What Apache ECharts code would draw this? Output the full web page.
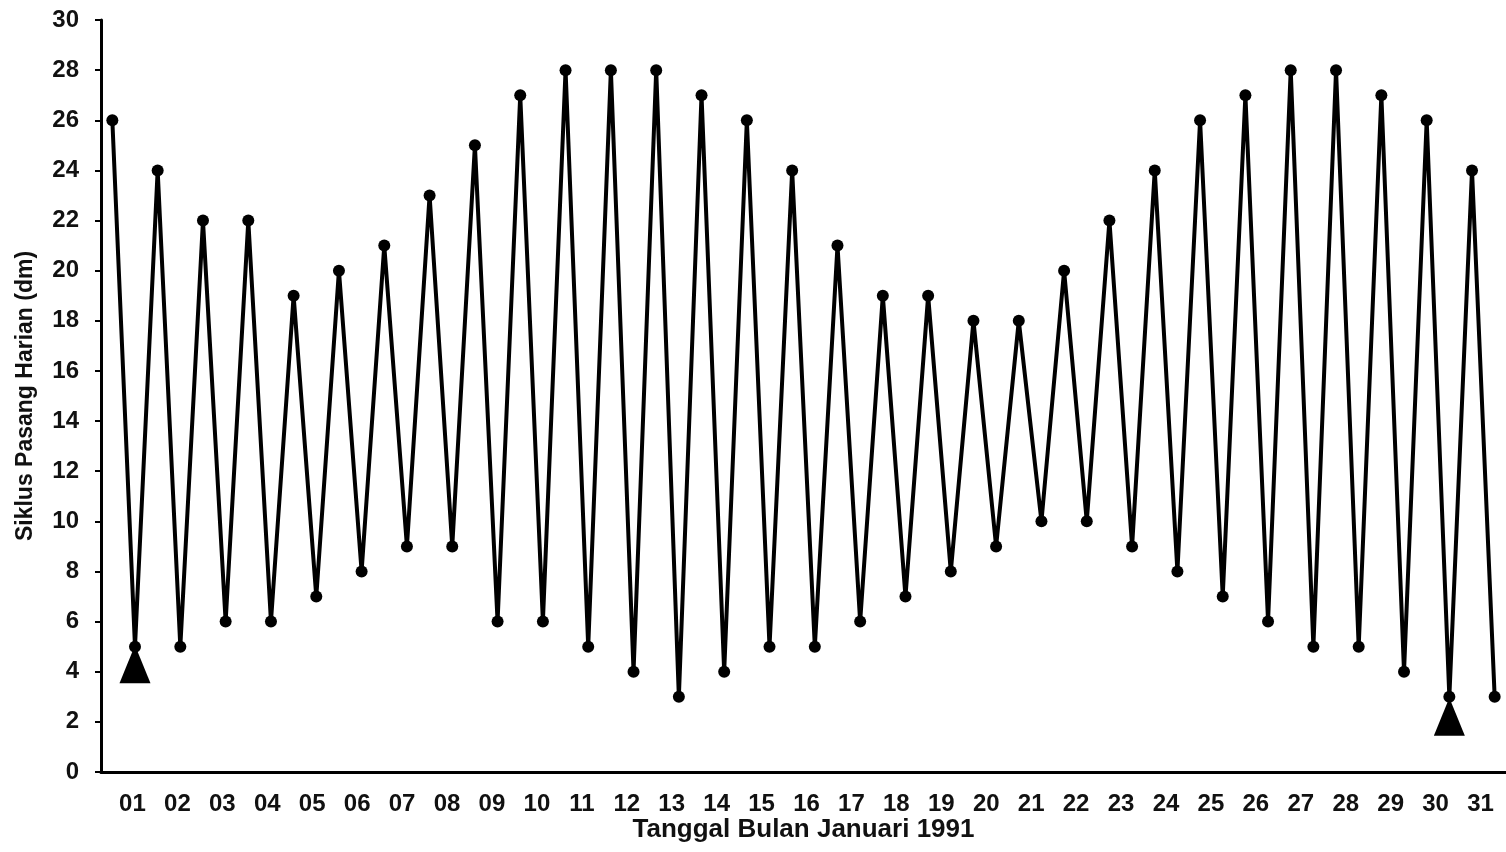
<!DOCTYPE html>
<html>
<head>
<meta charset="utf-8">
<script src="https://cdn.jsdelivr.net/npm/echarts@6/dist/echarts.min.js"></script>
<style>
  html, body {
    margin: 0;
    padding: 0;
    background: #fff;
  }

  #chart {
    width: 1506px;
    height: 852px;
  }
</style>
</head>
<body>
<div id="chart"></div>
<script>
// tanggal (label sumbu x)
const days = ['01', '02', '03', '04', '05', '06', '07', '08', '09', '10',
  '11', '12', '13', '14', '15', '16', '17', '18', '19', '20',
  '21', '22', '23', '24', '25', '26', '27', '28', '29', '30', '31']

// dua titik per hari: pasang tinggi lalu pasang rendah (dm)
const tideValues = [
  26, 5, 24, 5, 22, 6, 22, 6, 19, 7,
  20, 8, 21, 9, 23, 9, 25, 6, 27, 6,
  28, 5, 28, 4, 28, 3, 27, 4, 26, 5,
  24, 5, 21, 6, 19, 7, 19, 8, 18, 9,
  18, 10, 20, 10, 22, 9, 24, 8, 26, 7,
  27, 6, 28, 5, 28, 5, 27, 4, 26, 3,
  24, 3
]

// tanda segitiga (indeks titik, nilai)
const markerIndex = [1, 59]
const markerValue = [4.3, 2.2]

const slots = tideValues.map((v, i) => String(i))
const markers = markerIndex.map((idx, i) => [String(idx), markerValue[i]])

const fontFamily = '"Liberation Sans", Arial, sans-serif'

const chart = echarts.init(document.getElementById('chart'), null, {renderer: 'canvas'})

const option = {
  animation: false,
  backgroundColor: '#fff',
  grid: [
    {
      left: 101,
      right: 0,
      top: 20,
      bottom: 80
    },
    // grid hanya untuk label tanggal
    {
      left: 110,
      right: 3,
      top: 20,
      bottom: 80
    }
  ],
  xAxis: [
    {
      type: 'category',
      gridIndex: 0,
      data: slots,
      boundaryGap: true,
      axisLine: {
        lineStyle: {
          color: '#000',
          width: 3
        }
      },
      axisTick: {show: false},
      axisLabel: {show: false},
      name: 'Tanggal Bulan Januari 1991',
      nameLocation: 'middle',
      nameGap: 45,
      nameTextStyle: {
        color: '#111',
        fontFamily: fontFamily,
        fontWeight: 'bold',
        fontSize: 26
      }
    },
    {
      type: 'category',
      gridIndex: 1,
      data: days,
      boundaryGap: true,
      axisLine: {show: false},
      axisTick: {show: false},
      axisLabel: {
        margin: 20,
        interval: 0,
        color: '#111',
        fontFamily: fontFamily,
        fontWeight: 'bold',
        fontSize: 24
      }
    }
  ],
  yAxis: [
    {
      type: 'value',
      gridIndex: 0,
      min: 0,
      max: 30,
      interval: 2,
      splitLine: {show: false},
      axisLine: {
        show: true,
        lineStyle: {
          color: '#000',
          width: 3
        }
      },
      axisTick: {
        show: true,
        length: 6,
        lineStyle: {
          color: '#000',
          width: 2
        }
      },
      axisLabel: {
        margin: 22,
        color: '#111',
        fontFamily: fontFamily,
        fontWeight: 'bold',
        fontSize: 24
      },
      name: 'Siklus Pasang Harian (dm)',
      nameLocation: 'middle',
      nameGap: 64,
      nameTextStyle: {
        color: '#111',
        fontFamily: fontFamily,
        fontWeight: 'bold',
        fontSize: 23
      }
    },
    {
      type: 'value',
      gridIndex: 1,
      min: 0,
      max: 30,
      show: false
    }
  ],
  series: [
    {
      name: 'Pasang',
      type: 'line',
      xAxisIndex: 0,
      yAxisIndex: 0,
      data: tideValues,
      symbol: 'circle',
      symbolSize: 12,
      lineStyle: {
        color: '#000',
        width: 4
      },
      itemStyle: {
        color: '#000'
      },
      z: 2
    },
    {
      name: 'Tanda',
      type: 'scatter',
      xAxisIndex: 0,
      yAxisIndex: 0,
      data: markers,
      symbol: 'triangle',
      symbolSize: [31, 38],
      itemStyle: {
        color: '#000',
        opacity: 1
      },
      z: 3
    }
  ]
}

chart.setOption(option)
</script>
</body>
</html>
